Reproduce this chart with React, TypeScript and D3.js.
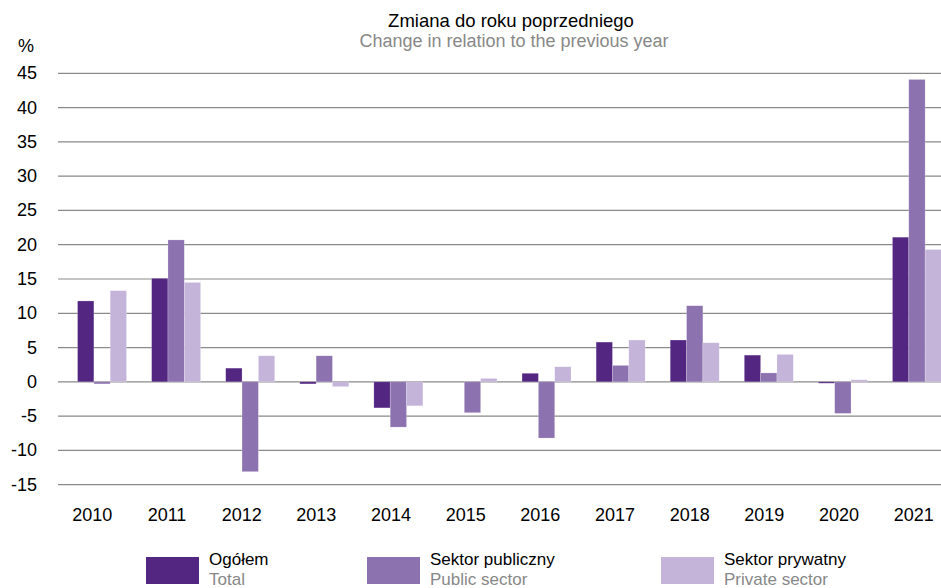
import React from "react";
import * as d3 from "d3";

const years = ["2010","2011","2012","2013","2014","2015","2016","2017","2018","2019","2020","2021"];
const total = [11.8, 15.1, 2.0, -0.3, -3.8, 0.0, 1.25, 5.8, 6.1, 3.9, -0.2, 21.1];
const publicSector = [-0.3, 20.7, -13.1, 3.8, -6.6, -4.5, -8.2, 2.4, 11.1, 1.3, -4.6, 44.1];
const privateSector = [13.3, 14.5, 3.8, -0.7, -3.5, 0.5, 2.2, 6.1, 5.7, 4.0, 0.3, 19.3];
const yTicks = [-15, -10, -5, 0, 5, 10, 15, 20, 25, 30, 35, 40, 45];

const seriesNames = ["Ogółem", "Sektor publiczny", "Sektor prywatny"];
const seriesNamesEn = ["Total", "Public sector", "Private sector"];
const colors = ["#532681", "#8d72b0", "#c4b4d9"];

const W = 941, H = 588;
const FONT = "'Liberation Sans', Arial, sans-serif";

export default function App() {
  const series = [total, publicSector, privateSector];
  const y = d3.scaleLinear().domain([-15, 45]).range([484.7, 73.3]);
  const xLabel = d3.scaleBand<string>().domain(years).range([55, 951]);
  const xBar = d3.scaleBand<string>().domain(years).range([65, 954]);
  const inner = d3.scaleBand<number>().domain([0, 1, 2]).range([-24.5, 24.5]).padding(0);
  const legendX = [146, 367, 661];

  return (
    <svg width={W} height={H} style={{ position: "absolute", left: 0, top: 0 }} fontFamily={FONT}>
      <rect width={W} height={H} fill="#fff" />
      <text x={511} y={27} textAnchor="middle" fontSize={18.5} fill="#000">Zmiana do roku poprzedniego</text>
      <text x={514} y={47} textAnchor="middle" fontSize={18} fill="#888">Change in relation to the previous year</text>
      <text x={18} y={52} fontSize={18} fill="#000">%</text>
      {yTicks.map((t) => (
        <g key={t}>
          <line x1={58} x2={W} y1={y(t)} y2={y(t)} stroke="#8a8a8a" strokeWidth={1.2} />
          <text x={37} y={y(t) + 6} textAnchor="end" fontSize={18} fill="#000">{t}</text>
        </g>
      ))}
      {years.map((yr, i) => (
        <g key={yr}>
          {series.map((s, k) => {
            const v = s[i];
            const cx = (xBar(yr) as number) + xBar.bandwidth() / 2;
            const x0 = cx + (inner(k) as number);
            const y0 = y(Math.max(0, v));
            const h = Math.abs(y(v) - y(0));
            return (
              <rect key={k} x={x0} y={y0} width={inner.bandwidth()} height={h}
                fill={colors[k]} stroke="#ffffff" strokeOpacity={0.35} strokeWidth={0.6} />
            );
          })}
          <text x={(xLabel(yr) as number) + xLabel.bandwidth() / 2} y={521} textAnchor="middle" fontSize={18} fill="#000">{yr}</text>
        </g>
      ))}
      {seriesNames.map((n, k) => (
        <g key={n}>
          <rect x={legendX[k]} y={557} width={53} height={27} fill={colors[k]} />
          <text x={legendX[k] + 63} y={565} fontSize={17} fill="#000">{n}</text>
          <text x={legendX[k] + 63} y={584.5} fontSize={17} fill="#888">{seriesNamesEn[k]}</text>
        </g>
      ))}
    </svg>
  );
}
